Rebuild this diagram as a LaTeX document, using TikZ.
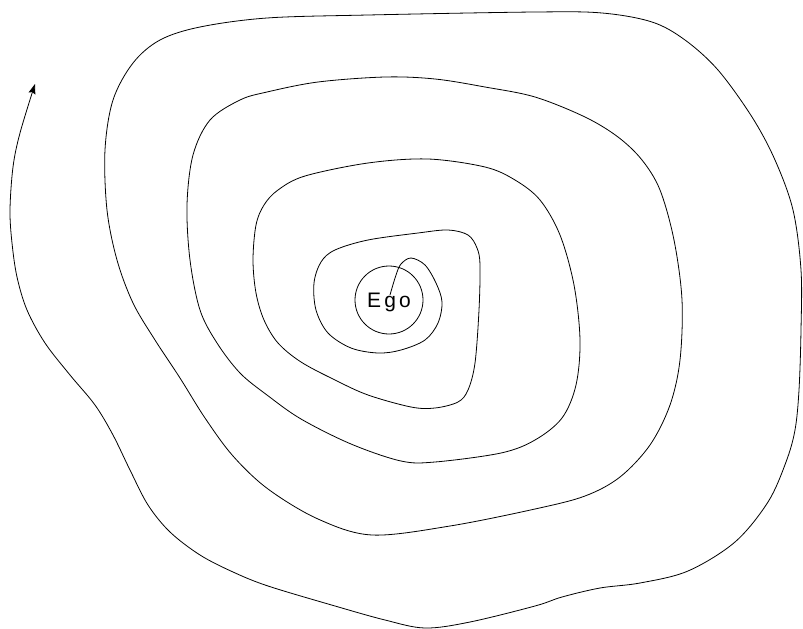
\documentclass[tikz,border=0pt]{standalone}
\usepackage{fontspec}
\usepackage{tikz}
\usetikzlibrary{arrows.meta}
\newfontfamily\egofont{Liberation Sans}[LetterSpace=15]

\begin{document}
\begin{tikzpicture}[
    x=1pt, y=-1pt,
    egonode/.style={circle, draw, line width=0.8pt, minimum size=68pt, inner sep=0pt,
                    text depth=0pt, font=\egofont\fontsize{21}{21}\selectfont},
    spiral/.style={line width=0.8pt, smooth, tension=0.55,
                   -{Stealth[length=10pt, width=7pt, inset=1.5pt]}},
]
\useasboundingbox (0,0) rectangle (803,629);

\node[egonode] (ego) at (389,300) {Ego};
\coordinate (core) at (390,295);

% spiral from the centre outwards, clockwise
\draw[spiral] plot coordinates {
    (core) (396,275) (401,264) (411,258) (425,265) (436,283) (442,302)
    (438,323) (425,340) (401,350) (378,353) (351,348) (328,333) (316,310)
    (314,283) (321,262) (335,250) (368,240) (418,233) (448,230) (468,235)
    (477,248) (480,265) (479,310) (475,363) (468,390) (458,402) (435,408)
    (411,407) (368,395) (335,380) (301,362) (278,343) (264,320) (256,293)
    (253,260) (256,225) (264,205) (278,190) (305,176) (368,163) (428,159)
    (485,167) (515,180) (540,200) (560,235) (574,285) (580,340) (576,385)
    (562,418) (535,440) (501,453) (435,462) (401,461) (351,444) (301,419)
    (267,395) (240,373) (217,343) (200,310) (190,260) (187,205) (193,155)
    (210,120) (240,100) (267,92) (318,82) (385,77) (435,79) (485,87)
    (535,97) (585,117) (618,137) (642,160) (660,190) (674,240) (682,300)
    (680,360) (670,405) (650,445) (620,477) (585,496) (535,509) (450,526)
    (372,535) (318,519) (268,489) (233,456) (205,418) (180,378) (155,340)
    (133,303) (117,260) (107,210) (105,150) (113,100) (133,63) (160,40)
    (200,27) (267,18) (368,15) (535,12) (602,13) (652,22) (685,40)
    (718,70) (752,117) (775,160) (793,210) (801,270) (801,330) (799,390)
    (795,430) (786,462) (768,502) (735,542) (688,571) (640,583) (600,588)
    (562,597) (535,606) (470,622) (425,628) (385,620) (335,606) (268,586)
    (233,572) (200,555) (170,532) (148,505) (130,470) (113,435) (95,405)
    (70,375) (45,343) (27,310) (17,277) (12,243) (10,210) (13,167)
    (20,133) (35,84)
};
\end{tikzpicture}
\end{document}
